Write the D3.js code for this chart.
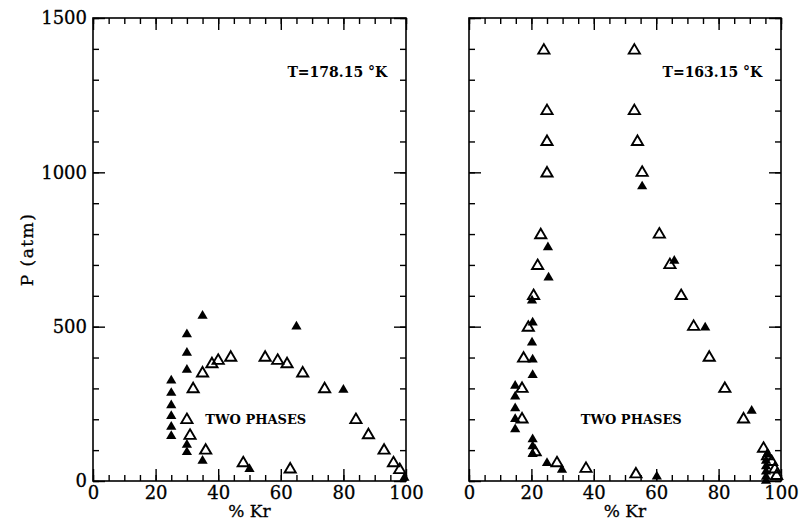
<!DOCTYPE html>
<html>
<head>
<meta charset="utf-8">
<script src="https://cdn.jsdelivr.net/npm/d3@7"></script>
<style>
  body { margin: 0; background: #fff; }
  svg { display: block; }
  .tick text { font-family: "DejaVu Serif", serif; font-size: 18px; fill: #000; stroke: #000; stroke-width: 0.3px; }
  .tick line { stroke: #000; stroke-width: 1.4px; }
  .label { font-family: "DejaVu Serif", serif; fill: #000; }
</style>
</head>
<body>
<div id="chart"></div>
<script>
// axis ticks
var xMajor = [0, 20, 40, 60, 80, 100];
var yMajor = [0, 500, 1000, 1500];

// T=178.15 K : liquid (filled) and vapour (open) points
var filled178X = [35, 65, 30, 30, 30, 25, 25, 25, 25, 25, 25, 30, 30, 35, 50, 80, 99.5];
var filled178P = [540, 505, 480, 420, 365, 330, 290, 250, 215, 180, 150, 122, 98, 70, 43, 300, 15];
var open178X = [32, 35, 38, 40, 44, 55, 59, 62, 67, 74, 84, 88, 93, 96, 98, 30, 31, 36, 48, 63];
var open178P = [303, 354, 384, 395, 405, 405, 395, 384, 354, 303, 203, 154, 104, 63, 41, 203, 152, 104, 63, 43];

// T=163.15 K
var filled163X = [55.5, 25.3, 65.8, 25.5, 20.2, 20.4, 20.2, 20.4, 20.4, 14.8, 14.8, 14.8, 14.8, 14.8, 20.4, 20.4, 20.4, 25, 29.8, 60.2, 75.7, 90.6, 95.5, 95.2, 95.2, 95.2, 95.2, 95.2];
var filled163P = [959, 762, 718, 664, 589, 518, 453, 398, 348, 313, 278, 240, 205, 172, 140, 117, 92, 63, 41, 19, 502, 232, 90, 70, 52, 35, 18, 5];
var open163X = [24, 53, 25, 53, 25, 54, 25, 55.5, 23, 61, 22, 64.4, 20.7, 68, 19, 17.5, 17, 17, 21.2, 28.2, 37.5, 53.5, 72, 77, 82, 88, 94.4, 95.7, 97, 98, 98.6];
var open163P = [1400, 1400, 1204, 1204, 1104, 1104, 1002, 1004, 802, 804, 702, 705, 605, 605, 502, 402, 304, 205, 99, 63, 45, 27, 505, 405, 304, 205, 110, 86, 67, 43, 22];

var width = 801, height = 523;

var svg = d3.select("#chart").append("svg")
	.attr("width", width)
	.attr("height", height);

var y = d3.scaleLinear().domain([0, 1500]).range([481, 18]);

// triangle centred on its bounding box
var tri = {
	draw: function(ctx, size) {
		var w = Math.sqrt(size), h = w * 0.85;
		ctx.moveTo(0, -h / 2);
		ctx.lineTo(w / 2, h / 2);
		ctx.lineTo(-w / 2, h / 2);
		ctx.closePath();
	}
};

function drawPanel(x0, x1, temp, filledX, filledP, openX, openP, showY)
{
	var x = d3.scaleLinear().domain([0, 100]).range([x0, x1]);
	var g = svg.append("g");

	// minor ticks
	g.append("g").attr("transform", "translate(0," + y(0) + ")")
		.call(d3.axisBottom(x).ticks(20).tickSize(-6).tickFormat(""));
	g.append("g").attr("transform", "translate(0," + y(1500) + ")")
		.call(d3.axisTop(x).ticks(20).tickSize(-6).tickFormat(""));
	g.append("g").attr("transform", "translate(" + x0 + ",0)")
		.call(d3.axisLeft(y).ticks(15).tickSize(-6).tickFormat(""));
	g.append("g").attr("transform", "translate(" + x1 + ",0)")
		.call(d3.axisRight(y).ticks(15).tickSize(-6).tickFormat(""));

	// major ticks
	g.append("g").attr("transform", "translate(0," + y(0) + ")")
		.call(d3.axisBottom(x).tickValues(xMajor).tickSize(-12).tickPadding(5));
	g.append("g").attr("transform", "translate(0," + y(1500) + ")")
		.call(d3.axisTop(x).tickValues(xMajor).tickSize(-12).tickFormat(""));
	g.append("g").attr("transform", "translate(" + x0 + ",0)")
		.call(d3.axisLeft(y).tickValues(yMajor).tickSize(-12).tickPadding(6)
			.tickFormat(showY ? d3.format("d") : function() { return ""; }));
	g.append("g").attr("transform", "translate(" + x1 + ",0)")
		.call(d3.axisRight(y).tickValues(yMajor).tickSize(-12).tickFormat(""));

	g.selectAll(".domain").remove();

	// frame
	g.append("rect")
		.attr("x", x0).attr("y", y(1500))
		.attr("width", x1 - x0).attr("height", y(0) - y(1500))
		.attr("fill", "none").attr("stroke", "#000").attr("stroke-width", 1.6);

	var openPts = d3.zip(openX, openP);
	var filledPts = d3.zip(filledX, filledP);

	g.selectAll("path.open").data(openPts).enter().append("path")
		.attr("class", "open")
		.attr("d", d3.symbol().type(tri).size(125))
		.attr("transform", function(d) { return "translate(" + x(d[0]) + "," + y(d[1]) + ")"; })
		.attr("fill", "none").attr("stroke", "#000").attr("stroke-width", 1.9);

	g.selectAll("path.filled").data(filledPts).enter().append("path")
		.attr("class", "filled")
		.attr("d", d3.symbol().type(tri).size(105))
		.attr("transform", function(d) { return "translate(" + x(d[0]) + "," + y(d[1]) + ")"; })
		.attr("fill", "#000");

	g.append("text").attr("class", "label")
		.attr("x", x(94)).attr("y", y(1310))
		.attr("text-anchor", "end")
		.style("font-size", "14px").style("font-weight", "bold")
		.text(temp);

	g.append("text").attr("class", "label")
		.attr("x", x(52)).attr("y", y(200))
		.attr("dy", "0.36em")
		.attr("text-anchor", "middle")
		.style("font-size", "13px").style("font-weight", "bold")
		.text("TWO PHASES");

	g.append("text").attr("class", "label")
		.attr("x", (x0 + x1) / 2).attr("y", 517)
		.attr("text-anchor", "middle")
		.style("font-size", "17px").style("stroke", "#000").style("stroke-width", "0.3px")
		.text("% Kr");
}

drawPanel(93, 406, "T=178.15 \u00B0K", filled178X, filled178P, open178X, open178P, true);
drawPanel(469, 781, "T=163.15 \u00B0K", filled163X, filled163P, open163X, open163P, false);

svg.append("text").attr("class", "label")
	.attr("transform", "translate(33," + ((y(0) + y(1500)) / 2) + ") rotate(-90)")
	.attr("text-anchor", "middle")
	.style("font-size", "17px")
	.style("letter-spacing", "1.5px")
	.style("stroke", "#000").style("stroke-width", "0.3px")
	.text("P (atm)");
</script>
</body>
</html>
